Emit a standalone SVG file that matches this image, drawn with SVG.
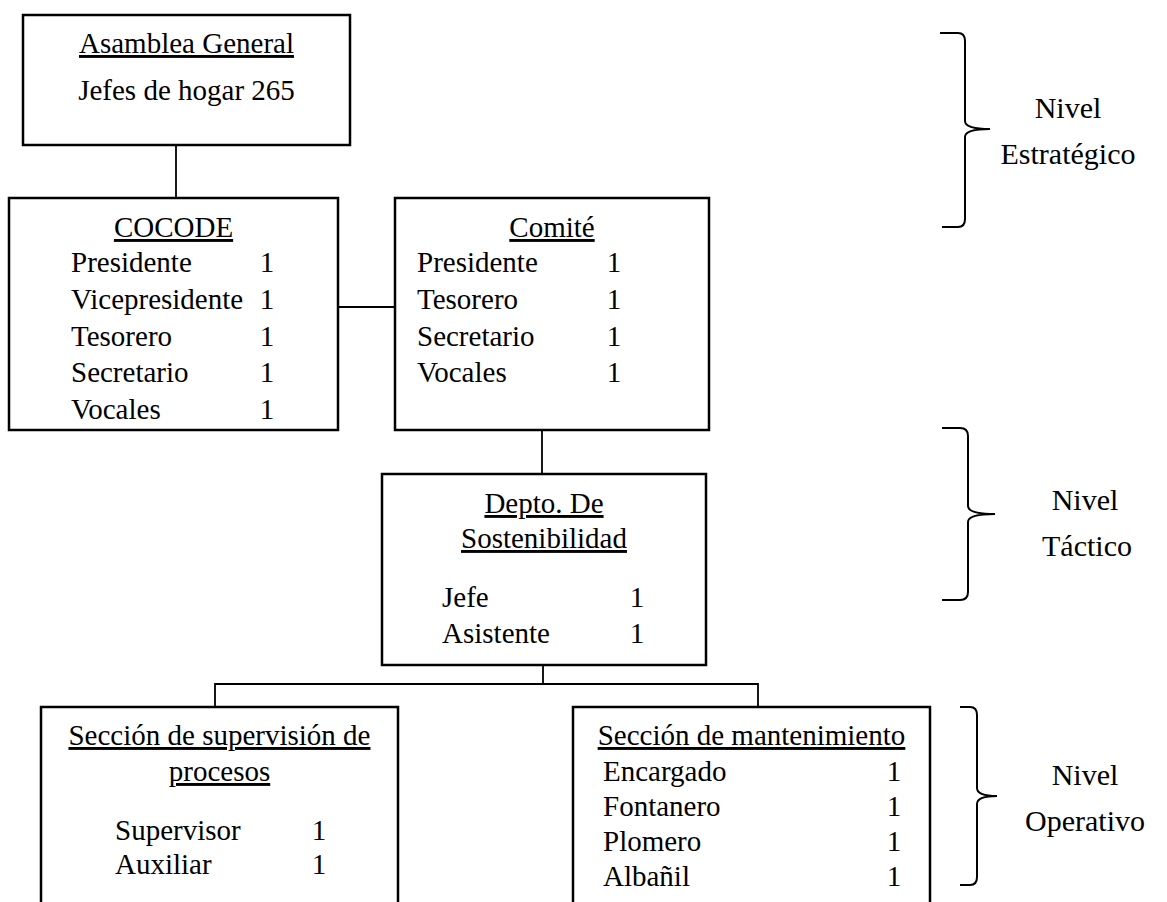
<svg xmlns="http://www.w3.org/2000/svg" width="1167" height="902" viewBox="0 0 1167 902">
<style>
.box{fill:#fff;stroke:#000;stroke-width:2.5}
.open{fill:none;stroke:#000;stroke-width:2.5}
.con{fill:none;stroke:#000;stroke-width:1.8}
.brace{fill:none;stroke:#000;stroke-width:2}
text{font-family:"Liberation Serif","Times New Roman",serif;font-size:29px;fill:#000}
.t{text-anchor:middle;text-decoration:underline}
.c{text-anchor:middle}
.lv{text-anchor:middle;font-size:30px}
</style>
<rect width="1167" height="902" fill="#fff"/>
<g id="connectors">
<path class="con" d="M176,145V198"/>
<path class="con" d="M338,307H395"/>
<path class="con" d="M542,430V474"/>
<path class="con" d="M543,665V684M215,707V684H758V707"/>
</g>
<g id="asamblea">
<rect class="box" x="23" y="15" width="327" height="130"/>
<text class="t" x="186.5" y="53">Asamblea General</text>
<text class="c" x="186.5" y="100">Jefes de hogar 265</text>
</g>
<g id="cocode">
<rect class="box" x="9" y="198" width="329" height="232"/>
<text class="t" x="173.5" y="237">COCODE</text>
<text x="71" y="272">Presidente</text><text class="c" x="267" y="272">1</text>
<text x="71" y="309">Vicepresidente</text><text class="c" x="267" y="309">1</text>
<text x="71" y="346">Tesorero</text><text class="c" x="267" y="346">1</text>
<text x="71" y="382">Secretario</text><text class="c" x="267" y="382">1</text>
<text x="71" y="419">Vocales</text><text class="c" x="267" y="419">1</text>
</g>
<g id="comite">
<rect class="box" x="395" y="198" width="314" height="232"/>
<text class="t" x="552" y="237">Comité</text>
<text x="417" y="272">Presidente</text><text class="c" x="614" y="272">1</text>
<text x="417" y="309">Tesorero</text><text class="c" x="614" y="309">1</text>
<text x="417" y="346">Secretario</text><text class="c" x="614" y="346">1</text>
<text x="417" y="382">Vocales</text><text class="c" x="614" y="382">1</text>
</g>
<g id="depto">
<rect class="box" x="382" y="474" width="324" height="191"/>
<text class="t" x="544" y="513">Depto. De</text>
<text class="t" x="544" y="548">Sostenibilidad</text>
<text x="442" y="607">Jefe</text><text class="c" x="637" y="607">1</text>
<text x="442" y="643">Asistente</text><text class="c" x="637" y="643">1</text>
</g>
<g id="supervision">
<path class="open" d="M41,910V707H398V910"/>
<text class="t" x="219.5" y="745">Sección de supervisión de</text>
<text class="t" x="219.5" y="781">procesos</text>
<text x="115" y="840">Supervisor</text><text class="c" x="319" y="840">1</text>
<text x="115" y="874">Auxiliar</text><text class="c" x="319" y="874">1</text>
</g>
<g id="mantenimiento">
<path class="open" d="M573,910V707H930V910"/>
<text class="t" x="751.5" y="745">Sección de mantenimiento</text>
<text x="603" y="781">Encargado</text><text class="c" x="894" y="781">1</text>
<text x="603" y="816">Fontanero</text><text class="c" x="894" y="816">1</text>
<text x="603" y="851">Plomero</text><text class="c" x="894" y="851">1</text>
<text x="603" y="886">Albañil</text><text class="c" x="894" y="886">1</text>
</g>
<g id="nivel-estrategico">
<path class="brace" d="M940,33H958Q965,33 965,41V121Q965,129 990,129Q965,129 965,137V219Q965,227 958,227H942"/>
<text class="lv" x="1068" y="118">Nivel</text>
<text class="lv" x="1068" y="164">Estratégico</text>
</g>
<g id="nivel-tactico">
<path class="brace" d="M942,428H960Q968,428 968,436V506Q968,514 995,514Q968,514 968,522V592Q968,600 960,600H942"/>
<text class="lv" x="1085" y="510">Nivel</text>
<text class="lv" x="1087" y="556">Táctico</text>
</g>
<g id="nivel-operativo">
<path class="brace" d="M960,707H970Q977,707 977,715V788Q977,796 997,796Q977,796 977,804V877Q977,885 970,885H960"/>
<text class="lv" x="1085" y="785">Nivel</text>
<text class="lv" x="1085" y="831">Operativo</text>
</g>
</svg>
